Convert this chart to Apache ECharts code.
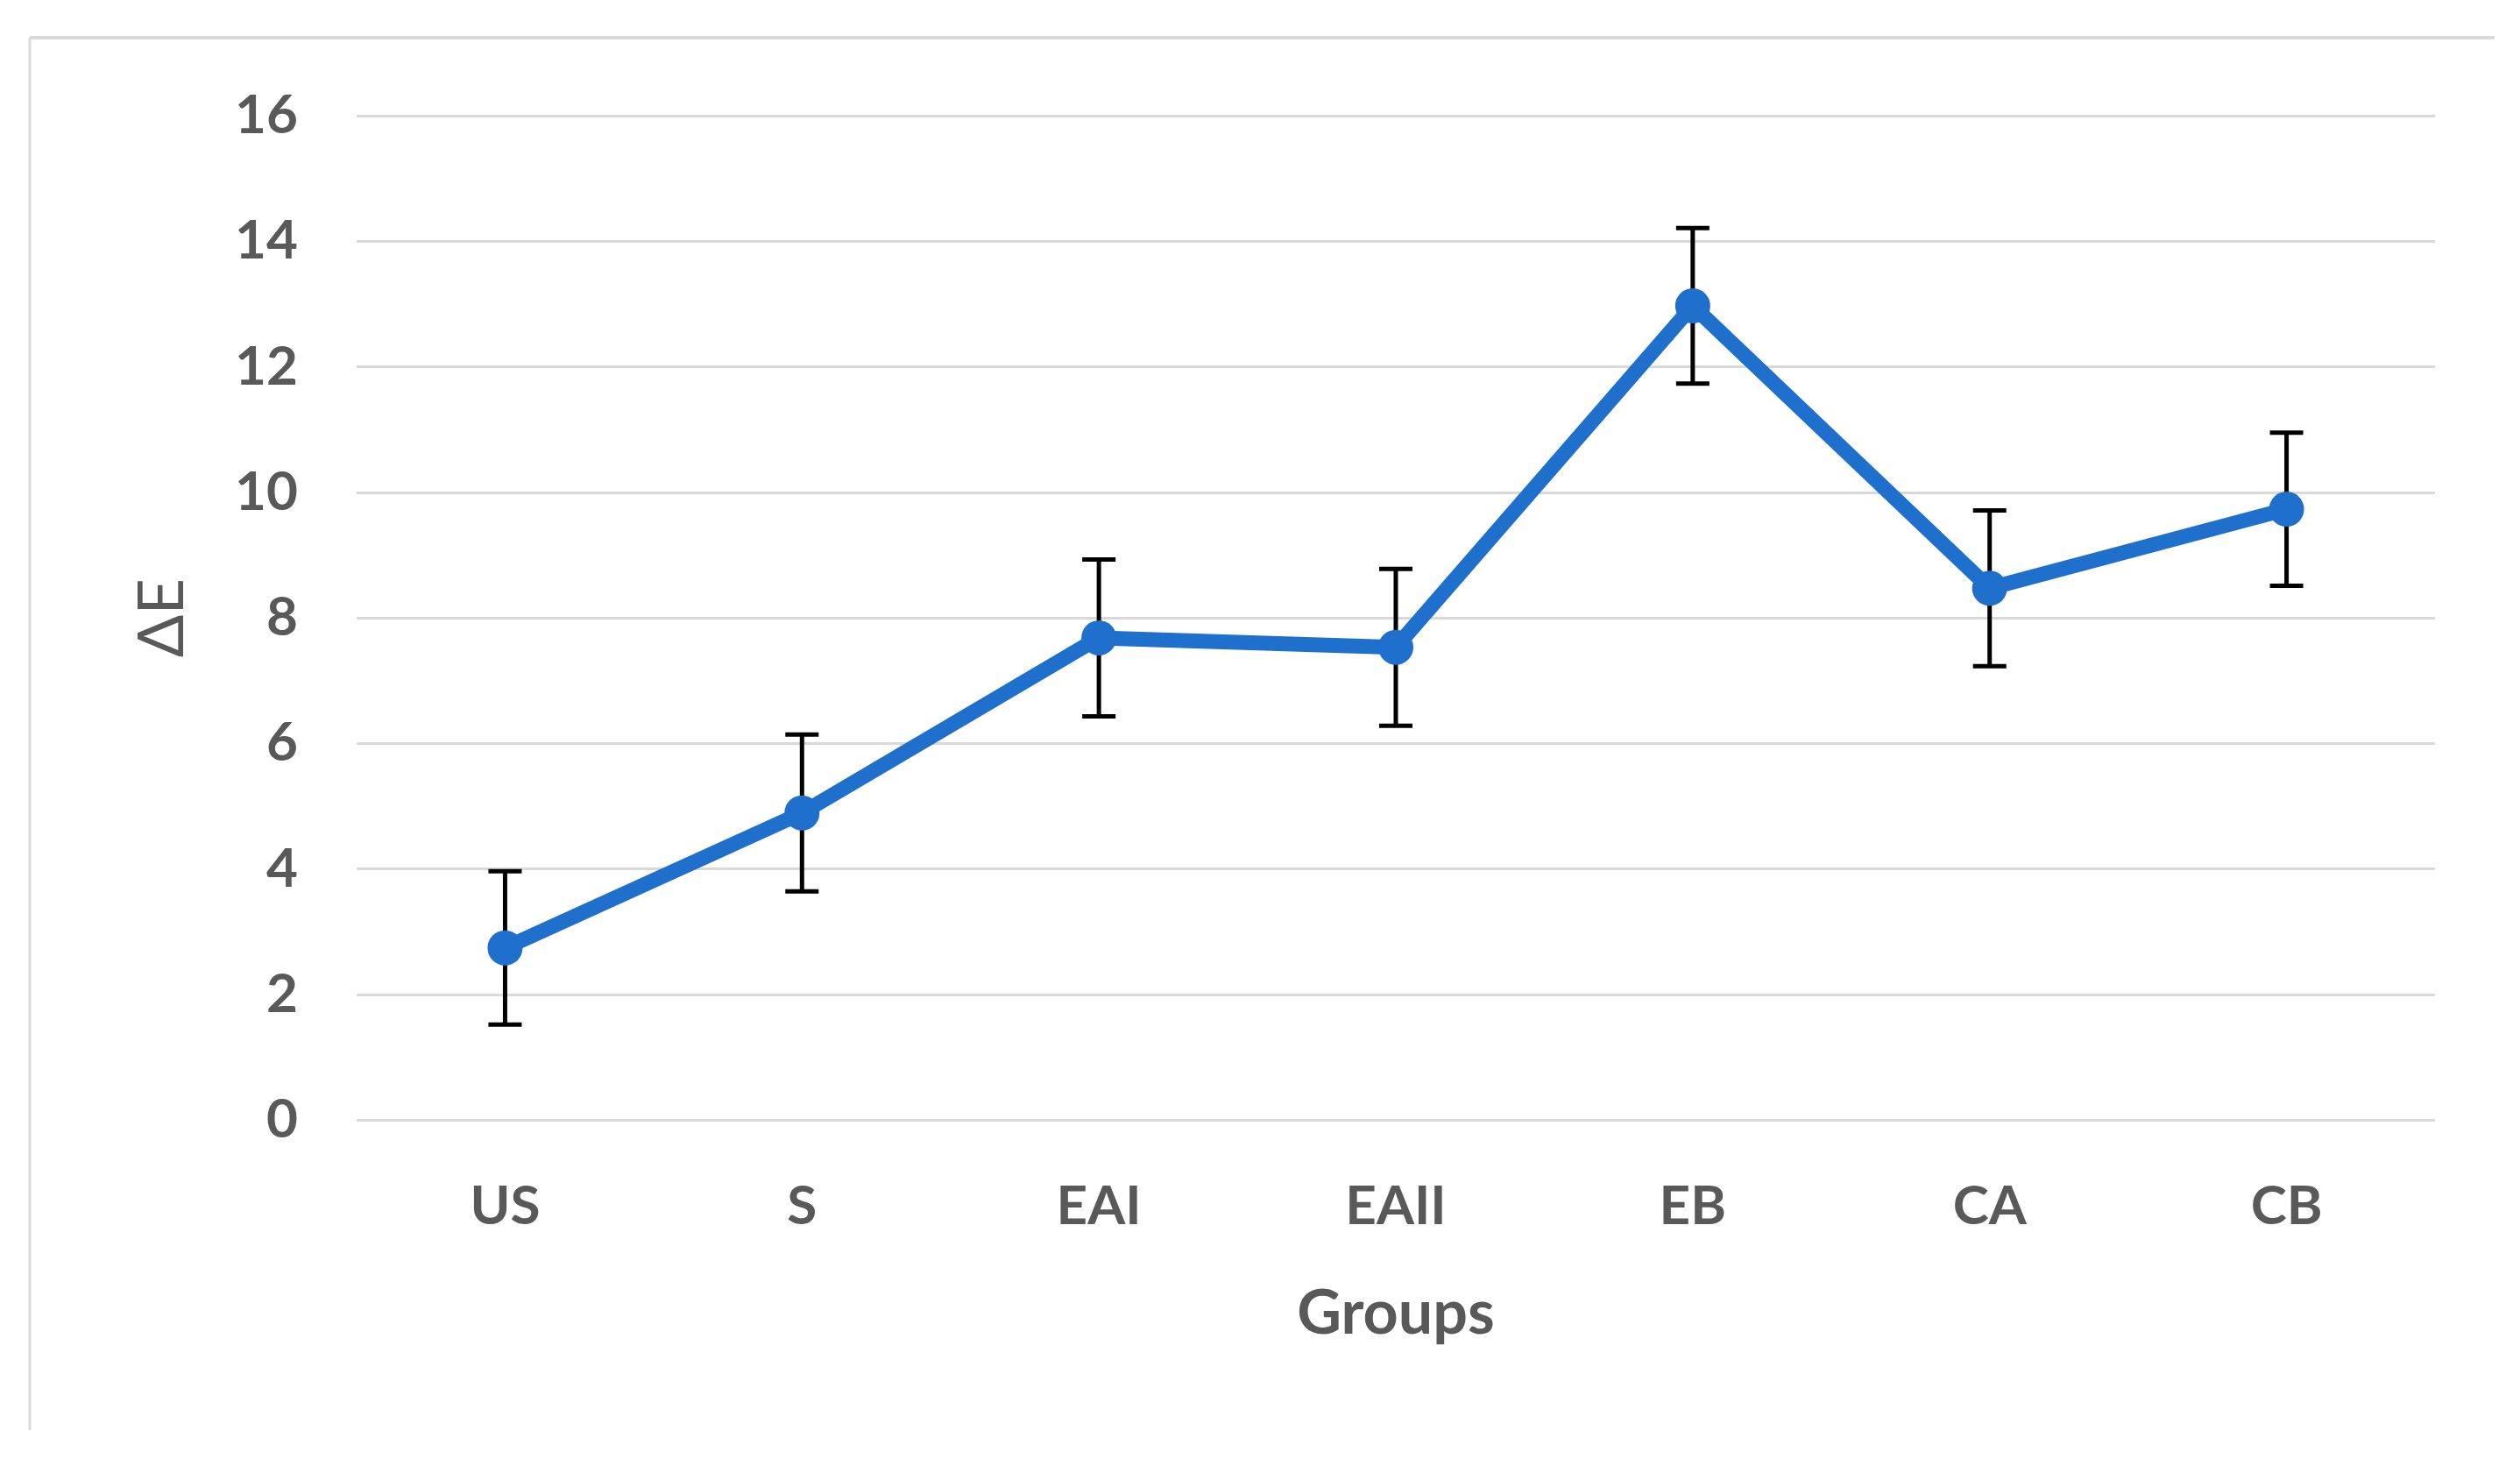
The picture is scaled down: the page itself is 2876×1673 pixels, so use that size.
<!DOCTYPE html>
<html>
<head>
<meta charset="utf-8">
<script src="https://cdn.jsdelivr.net/npm/echarts@6/dist/echarts.min.js"></script>
<style>
html,body{margin:0;padding:0;background:#fff;}
#chart{width:2876px;height:1673px;}
</style>
</head>
<body>
<div id="chart"></div>
<script>
const categories = ['US', 'S', 'EAI', 'EAII', 'EB', 'CA', 'CB'];
const meanValues = [2.74, 4.89, 7.68, 7.53, 12.97, 8.47, 9.73];
const errorValues = [1.22, 1.25, 1.25, 1.25, 1.24, 1.24, 1.22];
const yTicks = { min: 0, max: 16, interval: 2 };

const errorData = categories.map((c, i) => [i, meanValues[i] - errorValues[i], meanValues[i] + errorValues[i]]);

const chart = echarts.init(document.getElementById('chart'));
const labelFont = 'Lato, "Open Sans", sans-serif';
chart.setOption({
  backgroundColor: '#ffffff',
  animation: false,
  graphic: [
    { type: 'line', shape: { x1: 34, y1: 43, x2: 2847, y2: 43 }, style: { stroke: '#d9d9d9', lineWidth: 4 } },
    { type: 'line', shape: { x1: 34, y1: 43, x2: 34, y2: 1632 }, style: { stroke: '#d9d9d9', lineWidth: 3 } }
  ],
  grid: { left: 407, right: 97, top: 132, bottom: 395 },
  xAxis: {
    type: 'category',
    data: categories,
    boundaryGap: true,
    axisLine: { show: false },
    axisTick: { show: false },
    axisLabel: { color: '#595959', fontFamily: labelFont, fontWeight: 'bold', fontSize: 62, margin: 68 },
    name: 'Groups',
    nameLocation: 'middle',
    nameGap: 186,
    nameTextStyle: { color: '#595959', fontFamily: labelFont, fontWeight: 'bold', fontSize: 70 }
  },
  yAxis: {
    type: 'value',
    min: yTicks.min, max: yTicks.max, interval: yTicks.interval,
    axisLine: { show: false },
    axisTick: { show: false },
    splitLine: { lineStyle: { color: '#d9d9d9', width: 3 } },
    axisLabel: { color: '#595959', fontFamily: labelFont, fontWeight: 'bold', fontSize: 62, margin: 67 },
    name: 'ΔE',
    nameLocation: 'middle',
    nameRotate: 90,
    nameGap: 185,
    nameTextStyle: { color: '#595959', fontFamily: labelFont, fontSize: 72 }
  },
  series: [
    {
      type: 'custom',
      z: 3,
      data: errorData,
      renderItem: function (params, api) {
        const x = api.value(0);
        const lo = api.coord([x, api.value(1)]);
        const hi = api.coord([x, api.value(2)]);
        const hw = 19;
        const st = { stroke: '#000000', lineWidth: 5 };
        return {
          type: 'group',
          children: [
            { type: 'line', shape: { x1: lo[0], y1: lo[1], x2: hi[0], y2: hi[1] }, style: st },
            { type: 'line', shape: { x1: lo[0] - hw, y1: lo[1], x2: lo[0] + hw, y2: lo[1] }, style: st },
            { type: 'line', shape: { x1: hi[0] - hw, y1: hi[1], x2: hi[0] + hw, y2: hi[1] }, style: st }
          ]
        };
      }
    },
    {
      type: 'line',
      z: 4,
      data: meanValues,
      symbol: 'circle',
      symbolSize: 40,
      lineStyle: { color: '#1f6fcc', width: 17, join: 'round' },
      itemStyle: { color: '#1f6fcc' }
    }
  ]
});
</script>
</body>
</html>
